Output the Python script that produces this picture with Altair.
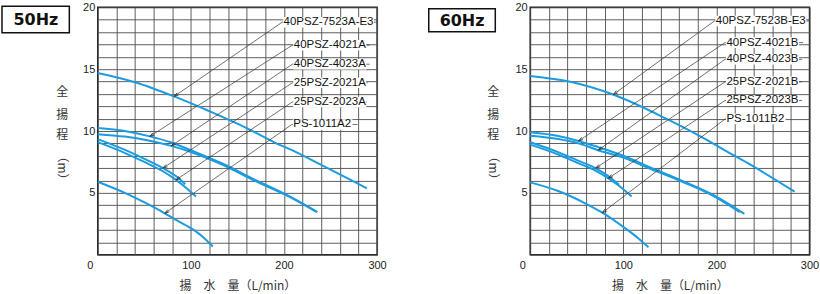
import math
import altair as alt
import pandas as pd

# ---------------- 50Hz curves (flow L/min -> total head m) ----------------
q50_7523 = [0, 40, 82, 120, 161, 189, 213, 240, 289]
h50_7523 = [14.7, 13.95, 12.8, 11.6, 10.2, 9.11, 8.3, 7.26, 5.37]
q50_4021 = [0, 29, 56, 80, 100, 136, 168, 204, 236]
h50_4021 = [10.25, 10.0, 9.57, 9.05, 8.45, 7.3, 6.1, 4.8, 3.45]
q50_4023 = [0, 29, 57, 79, 100, 136, 168, 204, 234]
h50_4023 = [9.75, 9.55, 9.2, 8.8, 8.3, 7.2, 6.0, 4.75, 3.5]
q50_2021 = [0, 30, 50, 70, 85, 94]
h50_2021 = [9.35, 8.45, 7.75, 7.0, 6.3, 5.7]
q50_2023 = [0, 30, 50, 70, 84, 95, 105.5]
h50_2023 = [9.1, 8.2, 7.5, 6.75, 6.05, 5.4, 4.7]
q50_1011 = [0, 29, 47, 72, 82, 100, 112, 123.5]
h50_1011 = [5.9, 5.0, 4.35, 3.35, 2.9, 2.15, 1.5, 0.67]

# ---------------- 60Hz curves ----------------
q60_7523 = [0, 43, 89, 146, 193, 211, 236, 284]
h60_7523 = [14.45, 13.98, 12.95, 11.0, 9.14, 8.35, 7.3, 5.1]
q60_4021 = [0, 30, 52, 73, 100, 129, 164, 196, 230]
h60_4021 = [9.9, 9.6, 9.2, 8.7, 8.0, 7.05, 5.95, 4.85, 3.3]
q60_4023 = [0, 30, 52, 73, 100, 129, 164, 196, 225]
h60_4023 = [9.62, 9.35, 9.0, 8.45, 7.85, 6.95, 5.88, 4.78, 3.45]
q60_2021 = [0, 30, 50, 70, 85, 95.4]
h60_2021 = [9.1, 8.3, 7.65, 7.0, 6.3, 5.65]
q60_2023 = [0, 30, 50, 70, 84, 95, 109]
h60_2023 = [8.9, 8.1, 7.45, 6.8, 6.18, 5.6, 4.7]
q60_1011 = [0, 30, 59, 77.5, 101.8, 115, 127]
h60_1011 = [5.85, 5.15, 4.16, 3.4, 2.15, 1.4, 0.6]

# ---------------- model labels ----------------
names50 = ["40PSZ-7523A-E3", "40PSZ-4021A", "40PSZ-4023A", "25PSZ-2021A", "25PSZ-2023A", "PS-1011A2"]
names60 = ["40PSZ-7523B-E3", "40PSZ-4021B", "40PSZ-4023B", "25PSZ-2021B", "25PSZ-2023B", "PS-1011B2"]

# annotation anchors (data units): label start, arrow tip on curve, leader tail end
lab50_q = [199.6, 210.5, 210.5, 210.5, 210.5, 210.0]
lab50_h = [18.8, 16.94, 15.4, 13.9, 12.35, 10.53]
tip50_q = [82, 56, 79, 70, 84, 72]
tip50_h = [12.8, 9.57, 8.8, 7.0, 6.05, 3.35]
tail50_q = [300, 292, 292, 290, 289, 279]

lab60_q = [199.4, 210.8, 210.8, 210.8, 210.8, 210.8]
lab60_h = [18.9, 17.15, 15.8, 13.98, 12.47, 10.97]
tip60_q = [89.3, 52, 73, 70.4, 84, 77.5]
tip60_h = [12.95, 9.2, 8.45, 7.0, 6.18, 3.4]
tail60_q = [300, 293, 292, 292, 292, 275]

x_ticks = list(range(0, 301, 20))
y_ticks = list(range(0, 21, 1))

# vertical y-axis title: glyphs stacked, unit "（m）" turned 90 degrees
y_title_chars = ["全", "揚", "程", "（m）"]
y_title_pos = [85, 108, 128, 161]   # px below plot top
y_title_ang = [0, 0, 0, 90]

W, H = 280, 248
PX_X = W / 300.0
PX_Y = H / 20.0
LABEL_FS = 11.5
CURVE_COLOR = "#1b9be0"
LINE_COLOR = "#333333"

CHAR_W = {"P": 0.667, "S": 0.667, "Z": 0.611, "A": 0.667, "B": 0.667, "E": 0.667, "-": 0.333}


def text_width_px(s):
    return sum(CHAR_W.get(c, 0.556) for c in s) * LABEL_FS


X_AXIS = alt.Axis(
    values=x_ticks, grid=True, ticks=False, domain=False, labelFlush=False,
    gridColor="#4d4d4d", gridWidth=0.9,
    labelExpr="datum.value % 100 == 0 ? datum.label : ''",
    labelFont="Liberation Sans", labelFontSize=11, labelColor="#222222",
    labelPadding=5, labelOffset=alt.expr("datum.value == 0 ? -8 : 0"),
    title="揚　水　量（L/min）", titleFont="Noto Sans CJK JP", titleFontSize=12,
    titleFontWeight="normal", titleColor="#333333", titlePadding=10,
)
Y_AXIS = alt.Axis(
    values=y_ticks, grid=True, ticks=False, domain=False, labelFlush=False,
    gridColor="#4d4d4d", gridWidth=0.9,
    labelExpr="(datum.value % 5 == 0 && datum.value > 0) ? datum.label : ''",
    labelFont="Liberation Sans", labelFontSize=11, labelColor="#222222",
    labelPadding=3, title=None,
)
XS = alt.Scale(domain=[0, 300], nice=False, zero=False)
YS = alt.Scale(domain=[0, 20], nice=False, zero=False)


def X(f):
    return alt.X(f, scale=XS, axis=X_AXIS)


def Y(f):
    return alt.Y(f, scale=YS, axis=Y_AXIS)


def panel(curves, names, lab_q, lab_h, tip_q, tip_h, tail_q, hz, box, ytx):
    rows = []
    for name, qs, hs in curves:
        for q, h in zip(qs, hs):
            rows.append({"model": name, "q": q, "h": h})
    curve_df = pd.DataFrame(rows)

    ann = []
    for i, name in enumerate(names):
        start_q = lab_q[i] - 1.5
        dx = (start_q - tip_q[i]) * PX_X
        dy = -(lab_h[i] - tip_h[i]) * PX_Y
        L = math.hypot(dx, dy)
        ang = math.degrees(math.atan2(dx / L, -dy / L)) % 360
        wq = text_width_px(name) / PX_X
        ann.append({
            "name": name, "lq": lab_q[i], "lh": lab_h[i], "sq": start_q,
            "tq": tip_q[i], "th": tip_h[i], "tail": tail_q[i], "ang": ang,
            "bq0": lab_q[i] - 0.6, "bq1": lab_q[i] + wq + 0.6,
            "bh0": lab_h[i] - 5.3 / PX_Y, "bh1": lab_h[i] + 5.3 / PX_Y,
        })
    ann_df = pd.DataFrame(ann)

    lines = alt.Chart(curve_df).mark_line(
        color=CURVE_COLOR, strokeWidth=2, interpolate="monotone"
    ).encode(x=X("q:Q"), y=Y("h:Q"), detail="model:N")

    base = alt.Chart(ann_df)
    diag = base.mark_rule(color=LINE_COLOR, strokeWidth=0.7).encode(
        x=X("tq:Q"), y=Y("th:Q"), x2="sq:Q", y2="lh:Q",
    )
    horiz = base.mark_rule(color=LINE_COLOR, strokeWidth=0.7).encode(
        x=X("sq:Q"), x2="tail:Q", y=Y("lh:Q"),
    )
    bg = base.mark_rect(fill="white").encode(
        x=X("bq0:Q"), x2="bq1:Q", y=Y("bh0:Q"), y2="bh1:Q",
    )
    txt = base.mark_text(
        align="left", baseline="middle", font="Liberation Sans",
        fontSize=LABEL_FS, color="#111111",
    ).encode(x=X("lq:Q"), y=Y("lh:Q"), text="name:N")
    arrows = base.mark_point(
        shape="M -0.45 -1.5 L 0 0 L 0.45 -1.5", filled=False,
        stroke=LINE_COLOR, strokeWidth=0.8, size=36, opacity=1,
    ).encode(x=X("tq:Q"), y=Y("th:Q"), angle=alt.Angle("ang:Q", scale=None))

    one = pd.DataFrame({"k": [0]})
    bx0, bx1, by0, by1, tx, ty = box
    frame = alt.Chart(one).mark_rect(
        fill="white", stroke="#111111", strokeWidth=1.5
    ).encode(
        x=alt.value(bx0), x2=alt.value(bx1), y=alt.value(by0), y2=alt.value(by1)
    )
    hz_txt = alt.Chart(one).mark_text(
        font="DejaVu Sans", fontWeight="bold", fontSize=16, color="#111111",
        align="center", baseline="middle",
    ).encode(x=alt.value(tx), y=alt.value(ty), text=alt.value(hz))

    ytitle = []
    for ch, yp, a in zip(y_title_chars, y_title_pos, y_title_ang):
        ytitle.append(
            alt.Chart(one).mark_text(
                font="Noto Sans CJK JP", fontSize=12, color="#333333",
                align="center", baseline="middle", angle=a,
            ).encode(x=alt.value(ytx), y=alt.value(yp), text=alt.value(ch))
        )

    return alt.layer(lines, diag, horiz, bg, txt, arrows, frame, hz_txt, *ytitle).properties(
        width=W, height=H
    )


curves50 = [
    ("40PSZ-7523A-E3", q50_7523, h50_7523),
    ("40PSZ-4021A", q50_4021, h50_4021),
    ("40PSZ-4023A", q50_4023, h50_4023),
    ("25PSZ-2021A", q50_2021, h50_2021),
    ("25PSZ-2023A", q50_2023, h50_2023),
    ("PS-1011A2", q50_1011, h50_1011),
]
curves60 = [
    ("40PSZ-7523B-E3", q60_7523, h60_7523),
    ("40PSZ-4021B", q60_4021, h60_4021),
    ("40PSZ-4023B", q60_4023, h60_4023),
    ("25PSZ-2021B", q60_2021, h60_2021),
    ("25PSZ-2023B", q60_2023, h60_2023),
    ("PS-1011B2", q60_1011, h60_1011),
]

left = panel(curves50, names50, lab50_q, lab50_h, tip50_q, tip50_h, tail50_q,
             "50Hz", (-96, -28.5, -1, 25.5, -62, 12.3), -35.5)
right = panel(curves60, names60, lab60_q, lab60_h, tip60_q, tip60_h, tail60_q,
              "60Hz", (-101.7, -35, 1.5, 24.5, -68.3, 13.3), -37)

chart = alt.hconcat(left, right, spacing=153.5, bounds="flush").properties(
    padding={"left": 0, "top": 0, "right": 0, "bottom": 0},
    background="white",
).configure_view(stroke="#222222", strokeWidth=1.5)

chart.save("out.html", embed_options={"renderer": "svg", "actions": False})
